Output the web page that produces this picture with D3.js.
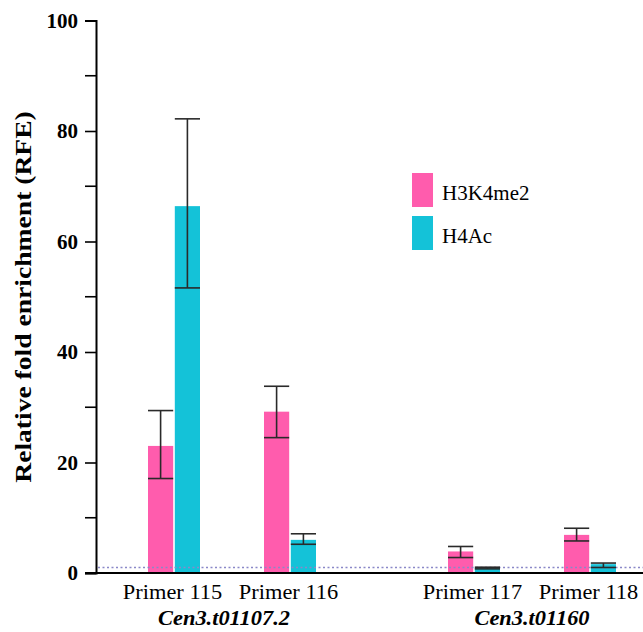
<!DOCTYPE html>
<html>
<head>
<meta charset="utf-8">
<script src="https://cdn.jsdelivr.net/npm/d3@7"></script>
<style>
  body { margin: 0; background: #fff; }
  svg { display: block; }
</style>
</head>
<body>
<div id="BarChart1"></div>
<script>
// values
var genes = ["Cen3.t01107.2", "Cen3.t01160"];
var primers = ["Primer 115", "Primer 116", "Primer 117", "Primer 118"];
var primerGene = [0, 0, 1, 1];
var primerIndex = [0, 1, 0, 1];
var seriesNames = ["H3K4me2", "H4Ac"];
var seriesColors = ["#ff5cad", "#14c2d8"];

var h3k4me2 = [23.0, 29.2, 3.9, 6.9];
var h3k4me2Lo = [17.1, 24.5, 2.8, 5.8];
var h3k4me2Hi = [29.4, 33.8, 4.8, 8.1];
var h4ac = [66.4, 6.0, 1.0, 1.6];
var h4acLo = [51.6, 5.2, 0.75, 1.0];
var h4acHi = [82.2, 7.1, 1.05, 1.8];

var yTicks = [0, 20, 40, 60, 80, 100];
var yMinorTicks = [10, 30, 50, 70, 90];
var baseline = 1;

var width = 643, height = 632;
var serif = "'Liberation Serif', 'Times New Roman', serif";

var svg = d3.select("#BarChart1")
  .append("svg")
  .attr("width", width)
  .attr("height", height);

var y = d3.scaleLinear().domain([0, 100]).range([573, 20.5]);

// gene groups -> primer slots -> series bars
var xGene = d3.scaleBand().domain(d3.range(genes.length)).range([82, 682]);
var xPrimer = d3.scalePoint().domain([0, 1]).range([92, 208]);
var xSeries = d3.scaleBand().domain(seriesNames).range([-26, 26]).paddingInner(0.06);

function primerCenter(i) {
  return xGene(primerGene[i]) + xPrimer(primerIndex[i]);
}

var rows = [];
primers.forEach(function (p, i) {
  rows.push({ i: i, s: seriesNames[0], c: seriesColors[0], v: h3k4me2[i], lo: h3k4me2Lo[i], hi: h3k4me2Hi[i] });
  rows.push({ i: i, s: seriesNames[1], c: seriesColors[1], v: h4ac[i], lo: h4acLo[i], hi: h4acHi[i] });
});

// bars
svg.append("g").selectAll("rect")
  .data(rows)
  .join("rect")
  .attr("x", d => primerCenter(d.i) + xSeries(d.s))
  .attr("width", xSeries.bandwidth())
  .attr("y", d => y(d.v))
  .attr("height", d => y(0) - y(d.v))
  .attr("fill", d => d.c);

// dotted reference line at RFE = 1
svg.append("line")
  .attr("x1", 98).attr("x2", width)
  .attr("y1", y(baseline)).attr("y2", y(baseline))
  .attr("stroke", "#8a88c8")
  .attr("stroke-width", 1.3)
  .attr("stroke-dasharray", "2,2.5");

// error bars
var eb = svg.append("g").attr("stroke", "#2a2a2a").attr("stroke-width", 1.6);
rows.forEach(function (d) {
  var x0 = primerCenter(d.i) + xSeries(d.s);
  var xm = x0 + xSeries.bandwidth() / 2;
  eb.append("line").attr("x1", xm).attr("x2", xm).attr("y1", y(d.lo)).attr("y2", y(d.hi));
  eb.append("line").attr("x1", x0).attr("x2", x0 + xSeries.bandwidth()).attr("y1", y(d.lo)).attr("y2", y(d.lo));
  eb.append("line").attr("x1", x0).attr("x2", x0 + xSeries.bandwidth()).attr("y1", y(d.hi)).attr("y2", y(d.hi));
});

// y axis
var yAxis = svg.append("g")
  .attr("transform", "translate(96,0)")
  .call(d3.axisLeft(y).tickValues(yTicks).tickSize(11).tickPadding(7));
yAxis.select(".domain").attr("stroke", "#000").attr("stroke-width", 2);
yAxis.selectAll(".tick line").attr("stroke", "#000").attr("stroke-width", 1.6);
yAxis.selectAll("text")
  .attr("font-family", serif)
  .attr("font-weight", "bold")
  .attr("font-size", 21)
  .attr("fill", "#000");

svg.append("g").selectAll("line")
  .data(yMinorTicks)
  .join("line")
  .attr("x1", 85).attr("x2", 96)
  .attr("y1", d => y(d)).attr("y2", d => y(d))
  .attr("stroke", "#000").attr("stroke-width", 1.6);

// x axis line
svg.append("line")
  .attr("x1", 85).attr("x2", width)
  .attr("y1", y(0)).attr("y2", y(0))
  .attr("stroke", "#000").attr("stroke-width", 2);

// primer labels (the original type is a bit wide, so stretch it)
svg.append("g").selectAll("text")
  .data(primers)
  .join("text")
  .attr("transform", (d, i) => "translate(" + (primerCenter(i) - 1.5) + ",599) scale(1.12,1)")
  .attr("text-anchor", "middle")
  .attr("font-family", serif)
  .attr("font-size", 20)
  .text(d => d);

// gene labels
svg.append("g").selectAll("text")
  .data(genes)
  .join("text")
  .attr("transform", (d, i) => "translate(" + (xGene(i) + xGene.bandwidth() / 2 - (i == 0 ? 8 : 0)) + ",625) scale(1.12,1)")
  .attr("text-anchor", "middle")
  .attr("font-family", serif)
  .attr("font-weight", "bold")
  .attr("font-style", "italic")
  .attr("font-size", 20)
  .text(d => d);

// y title
svg.append("text")
  .attr("transform", "translate(31,297) rotate(-90) scale(1.2,1)")
  .attr("text-anchor", "middle")
  .attr("font-family", serif)
  .attr("font-weight", "bold")
  .attr("font-size", 23)
  .text("Relative fold enrichment (RFE)");

// legend
var legend = svg.append("g").attr("transform", "translate(412,173)");
seriesNames.forEach(function (s, i) {
  legend.append("rect")
    .attr("x", 0).attr("y", i * 43)
    .attr("width", 21).attr("height", 34)
    .attr("fill", seriesColors[i]);
  legend.append("text")
    .attr("transform", "translate(30," + (i * 43 + 27) + ") scale(1.05,1)")
    .attr("font-family", serif)
    .attr("font-size", 20)
    .text(s);
});
</script>
</body>
</html>
